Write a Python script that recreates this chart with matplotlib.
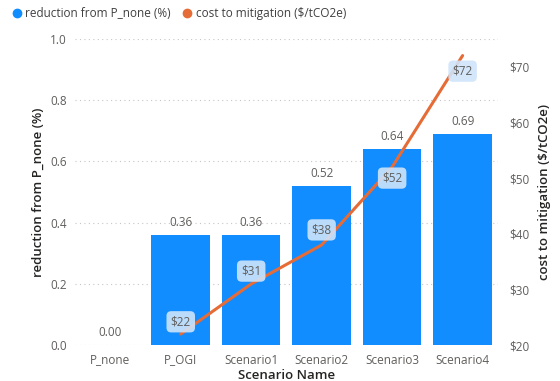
import numpy as np
import matplotlib.pyplot as plt
from matplotlib.lines import Line2D

plt.rcParams['font.family'] = ['Open Sans', 'DejaVu Sans']

scenarios = ["P_none", "P_OGI", "Scenario1", "Scenario2", "Scenario3", "Scenario4"]
reduction = [0.00, 0.36, 0.36, 0.52, 0.64, 0.69]
cost = [np.nan, 22, 31, 38, 52, 72]

bar_color = "#118DFF"
line_color = "#E66C37"
tick_color = "#605E5C"
title_color = "#252423"

fig = plt.figure(figsize=(5.6, 3.81), dpi=100)
ax = fig.add_axes([0.134, 0.094, 0.755, 0.804])
ax2 = ax.twinx()
ax.set_zorder(1)
ax2.set_zorder(2)
ax.patch.set_visible(False)

x = np.arange(len(scenarios))
bars = ax.bar(x, reduction, width=0.83, color=bar_color, zorder=2)
for xi, v in zip(x, reduction):
    ax.text(xi, v + 0.02, f"{v:.2f}", ha="center", va="bottom", fontsize=8.5, color=tick_color)

ax.set_ylim(0, 1.0)
ax.set_xlim(-0.5, len(scenarios) - 0.5)
ax.set_yticks(np.arange(0, 1.01, 0.2))
ax.set_yticklabels([f"{t:.1f}" for t in np.arange(0, 1.01, 0.2)])
ax.set_xticks(x)
ax.set_xticklabels(scenarios)
ax.grid(axis="y", linestyle=(0, (1, 3)), color="#C8C6C4", linewidth=0.8, zorder=0)
ax.tick_params(axis="both", length=0, labelsize=8.5, colors=tick_color, pad=6)
ax.set_xlabel("Scenario Name", fontsize=9.5, color=title_color, fontweight="semibold", labelpad=2)
ax.set_ylabel("reduction from P_none (%)", fontsize=9.5, color=title_color, fontweight="semibold", labelpad=4)

ax2.plot(x, cost, color=line_color, linewidth=2.2, solid_capstyle="round")
ax2.set_ylim(20, 75)
ax2.set_yticks([20, 30, 40, 50, 60, 70])
ax2.set_yticklabels([f"${t}" for t in [20, 30, 40, 50, 60, 70]])
ax2.tick_params(axis="y", length=0, labelsize=8.5, colors=tick_color, pad=8)
ax2.set_ylabel("cost to mitigation ($/tCO2e)", fontsize=9.5, color=title_color, fontweight="semibold", labelpad=6)

offsets = [None, 2.2, 2.3, 2.7, -2.0, -2.8]
for xi, c, off in zip(x, cost, offsets):
    if np.isnan(c):
        continue
    ax2.text(xi, c + off, f"${c}", ha="center", va="center", fontsize=8.5, color=tick_color,
             bbox=dict(boxstyle="round,pad=0.35,rounding_size=0.4", fc="#CFE4FA", ec="none", alpha=0.9))

for a in (ax, ax2):
    for s in a.spines.values():
        s.set_visible(False)

handles = [Line2D([], [], marker="o", linestyle="", color=bar_color, markersize=6),
           Line2D([], [], marker="o", linestyle="", color=line_color, markersize=6)]
fig.legend(handles, ["reduction from P_none (%)", "cost to mitigation ($/tCO2e)"],
           loc="upper left", bbox_to_anchor=(-0.01, 1.01), ncol=2, frameon=False,
           fontsize=8.5, handletextpad=-0.3, columnspacing=0.4, labelcolor="#404040")

fig.savefig("out.png", dpi=100)
